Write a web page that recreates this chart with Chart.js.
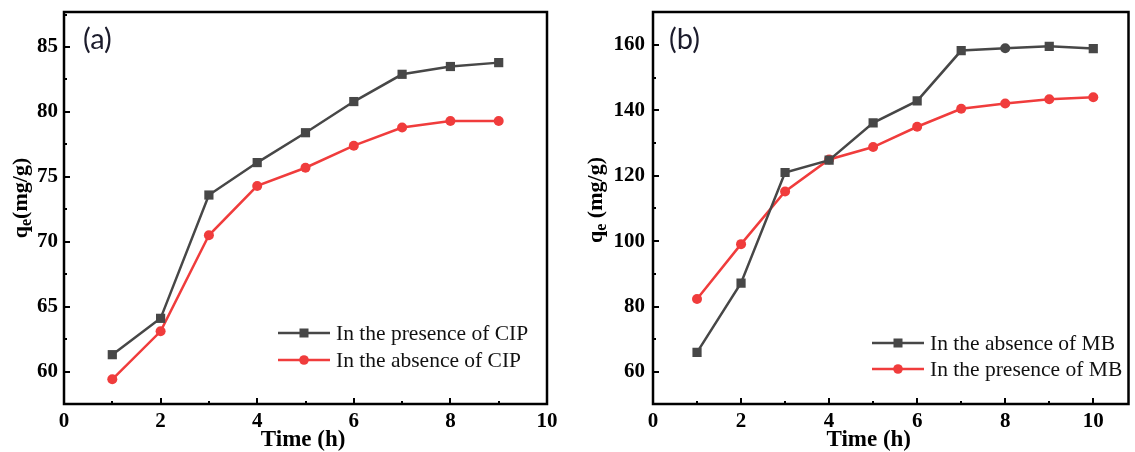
<!DOCTYPE html>
<html>
<head>
<meta charset="utf-8">
<script src="https://cdn.jsdelivr.net/npm/chart.js@4.4.1/dist/chart.umd.min.js"></script>
<style>
  html, body { margin: 0; padding: 0; background: #fff; }
  #wrap { position: relative; width: 1135px; height: 452px; overflow: hidden; }
  .box { position: absolute; top: 0; height: 452px; }
</style>
</head>
<body>
<div id="wrap">
  <div class="box" style="left:0;width:567px"><canvas id="chartA"></canvas></div>
  <div class="box" style="left:567px;width:568px"><canvas id="chartB"></canvas></div>
</div>
<script>
// panel (a) data
const timeA = [1, 2, 3, 4, 5, 6, 7, 8, 9];
const withCIP = [61.3, 64.1, 73.6, 76.1, 78.4, 80.8, 82.9, 83.5, 83.8];
const withoutCIP = [59.4, 63.1, 70.5, 74.3, 75.7, 77.4, 78.8, 79.3, 79.3];
const xTicksA = [0, 2, 4, 6, 8, 10];
const yTicksA = [60, 65, 70, 75, 80, 85];

// panel (b) data
const timeB = [1, 2, 3, 4, 5, 6, 7, 8, 9, 10];
const withoutMB = [66.0, 87.2, 121.0, 124.8, 136.2, 142.9, 158.3, 159.0, 159.6, 158.9];
const withMB = [82.3, 99.1, 115.2, 125.0, 128.8, 135.0, 140.5, 142.1, 143.4, 144.0];
const xTicksB = [0, 2, 4, 6, 8, 10];
const yTicksB = [60, 80, 100, 120, 140, 160];

const GREY = "#474747";
const RED = "#f03c3c";
const SERIF = "'Liberation Serif', 'Times New Roman', serif";

// draws the frame, inward ticks, axis titles, legend and panel label
const decorPlugin = {
  id: "decor",
  afterDraw(chart, args, opts) {
    const ctx = chart.ctx;
    const a = chart.chartArea;
    const xs = chart.scales.x;
    const ys = chart.scales.y;
    ctx.save();

    // inward ticks
    ctx.strokeStyle = "#000";
    ctx.lineWidth = 2;
    for (let v = opts.xMin; v <= opts.xMax; v += opts.xMinorStep) {
      const px = Math.round(xs.getPixelForValue(v));
      const len = opts.xMajor.includes(v) ? 6 : 3;
      ctx.beginPath();
      ctx.moveTo(px, a.bottom);
      ctx.lineTo(px, a.bottom - len);
      ctx.stroke();
    }
    for (let v = opts.yMinorStart; v <= ys.max; v += opts.yMinorStep) {
      const py = Math.round(ys.getPixelForValue(v));
      const len = opts.yMajor.includes(v) ? 6 : 3;
      ctx.beginPath();
      ctx.moveTo(a.left, py);
      ctx.lineTo(a.left + len, py);
      ctx.stroke();
    }

    // frame
    ctx.lineWidth = 2.5;
    ctx.strokeRect(a.left, a.top, a.right - a.left, a.bottom - a.top);

    // x title
    ctx.fillStyle = "#000";
    ctx.font = "bold 23px " + SERIF;
    ctx.textAlign = "center";
    ctx.textBaseline = "alphabetic";
    ctx.fillText("Time (h)", xs.getPixelForValue(opts.xTitleAt), 446);

    // y title, rotated, with subscript e
    ctx.save();
    ctx.translate(opts.yTitleX, opts.yTitleY);
    ctx.rotate(-Math.PI / 2);
    ctx.textAlign = "left";
    ctx.font = "bold 22px " + SERIF;
    const qW = ctx.measureText("q").width;
    const rest = opts.yTitleRest;
    const rW = ctx.measureText(rest).width;
    ctx.font = "bold 16px " + SERIF;
    const eW = ctx.measureText("e").width;
    const x0 = -(qW + eW + rW) / 2;
    ctx.font = "bold 22px " + SERIF;
    ctx.fillText("q", x0, 7);
    ctx.fillText(rest, x0 + qW + eW, 7);
    ctx.font = "bold 16px " + SERIF;
    ctx.fillText("e", x0 + qW, 11);
    ctx.restore();

    // panel label
    ctx.font = "29px Lato, 'Open Sans', sans-serif";
    ctx.fillStyle = "#1c1c2c";
    ctx.textAlign = "left";
    ctx.textBaseline = "middle";
    ctx.fillText(opts.panel, a.left + opts.panelDx, 40);

    // legend
    ctx.font = "21.5px " + SERIF;
    chart.data.datasets.forEach((ds, i) => {
      const y = opts.legendY + i * opts.legendGap;
      const lx = opts.legendX;
      ctx.strokeStyle = ds.borderColor;
      ctx.lineWidth = 2.5;
      ctx.beginPath();
      ctx.moveTo(lx, y);
      ctx.lineTo(lx + 52, y);
      ctx.stroke();
      ctx.fillStyle = ds.borderColor;
      if (i === 0) {
        ctx.fillRect(lx + 21.5, y - 4.5, 9, 9);
      } else {
        ctx.beginPath();
        ctx.arc(lx + 26, y, 4.8, 0, Math.PI * 2);
        ctx.fill();
      }
      ctx.fillStyle = "#111";
      ctx.textBaseline = "middle";
      ctx.fillText(ds.label, lx + 58, y + 1);
    });

    ctx.restore();
  },
};

function makeDataset(label, xs, ys, color, style) {
  return {
    label: label,
    data: xs.map((x, i) => ({ x: x, y: ys[i] })),
    borderColor: color,
    backgroundColor: color,
    borderWidth: 2.5,
    pointStyle: style,
    pointRadius: (c) => {
      const st = Array.isArray(style) ? style[c.dataIndex] : style;
      return st === "rect" ? 6.5 : 5;
    },
    pointBorderWidth: 0,
    tension: 0,
  };
}

function makeChart(id, datasets, cfg) {
  return new Chart(document.getElementById(id), {
    type: "line",
    data: { datasets: datasets },
    options: {
      responsive: true,
      maintainAspectRatio: false,
      animation: false,
      layout: { padding: { top: 12, right: cfg.padRight, left: 0, bottom: 0 } },
      plugins: {
        legend: { display: false },
        tooltip: { enabled: false },
        decor: cfg.decor,
      },
      scales: {
        x: {
          type: "linear",
          min: cfg.xMin,
          max: cfg.xMax,
          grid: { display: false, drawTicks: false },
          border: { display: false },
          afterBuildTicks: (s) => { s.ticks = cfg.xTicks.map((v) => ({ value: v })); },
          afterFit: (s) => {
            s.height = 48;
            s.paddingLeft = 0;
            s.paddingRight = 0;
          },
          ticks: {
            padding: 5,
            color: "#000",
            maxRotation: 0,
            autoSkip: false,
            font: { family: SERIF, size: 21, weight: "bold" },
          },
        },
        y: {
          min: cfg.yMin,
          max: cfg.yMax,
          grid: { display: false, drawTicks: false },
          border: { display: false },
          afterBuildTicks: (s) => { s.ticks = cfg.yTicks.map((v) => ({ value: v })); },
          afterFit: (s) => {
            s.width = cfg.yWidth;
            s.paddingTop = 0;
            s.paddingBottom = 0;
          },
          ticks: {
            padding: cfg.yPad,
            color: "#000",
            font: { family: SERIF, size: 21, weight: "bold" },
          },
        },
      },
    },
    plugins: [decorPlugin],
  });
}

makeChart(
  "chartA",
  [
    makeDataset("In the presence of CIP", timeA, withCIP, GREY, "rect"),
    makeDataset("In the absence of CIP", timeA, withoutCIP, RED, "circle"),
  ],
  {
    xMin: 0, xMax: 10, yMin: 57.5, yMax: 87.7,
    xTicks: xTicksA, yTicks: yTicksA,
    yWidth: 64, padRight: 20, yPad: 6,
    decor: {
      xMin: 0, xMax: 10, xMinorStep: 1, xMajor: xTicksA,
      yMinorStart: 60, yMinorStep: 2.5, yMajor: yTicksA,
      xTitleAt: 4.95, yTitleX: 20, yTitleY: 198, yTitleRest: "(mg/g)",
      panel: "(a)", panelDx: 19, legendX: 278, legendY: 333, legendGap: 27,
    },
  }
);

makeChart(
  "chartB",
  [
    makeDataset("In the absence of MB", timeB, withoutMB, GREY,
      ["rect", "rect", "rect", "rect", "rect", "rect", "rect", "circle", "rect", "rect"]),
    makeDataset("In the presence of MB", timeB, withMB, RED, "circle"),
  ],
  {
    xMin: 0, xMax: 10.8, yMin: 50.2, yMax: 170.1,
    xTicks: xTicksB, yTicks: yTicksB,
    yWidth: 86, padRight: 2, yPad: 8,
    decor: {
      xMin: 0, xMax: 10, xMinorStep: 1, xMajor: xTicksB,
      yMinorStart: 60, yMinorStep: 10, yMajor: yTicksB,
      xTitleAt: 4.9, yTitleX: 28, yTitleY: 200, yTitleRest: " (mg/g)",
      panel: "(b)", panelDx: 16, legendX: 305, legendY: 343, legendGap: 26,
    },
  }
);
</script>
</body>
</html>
